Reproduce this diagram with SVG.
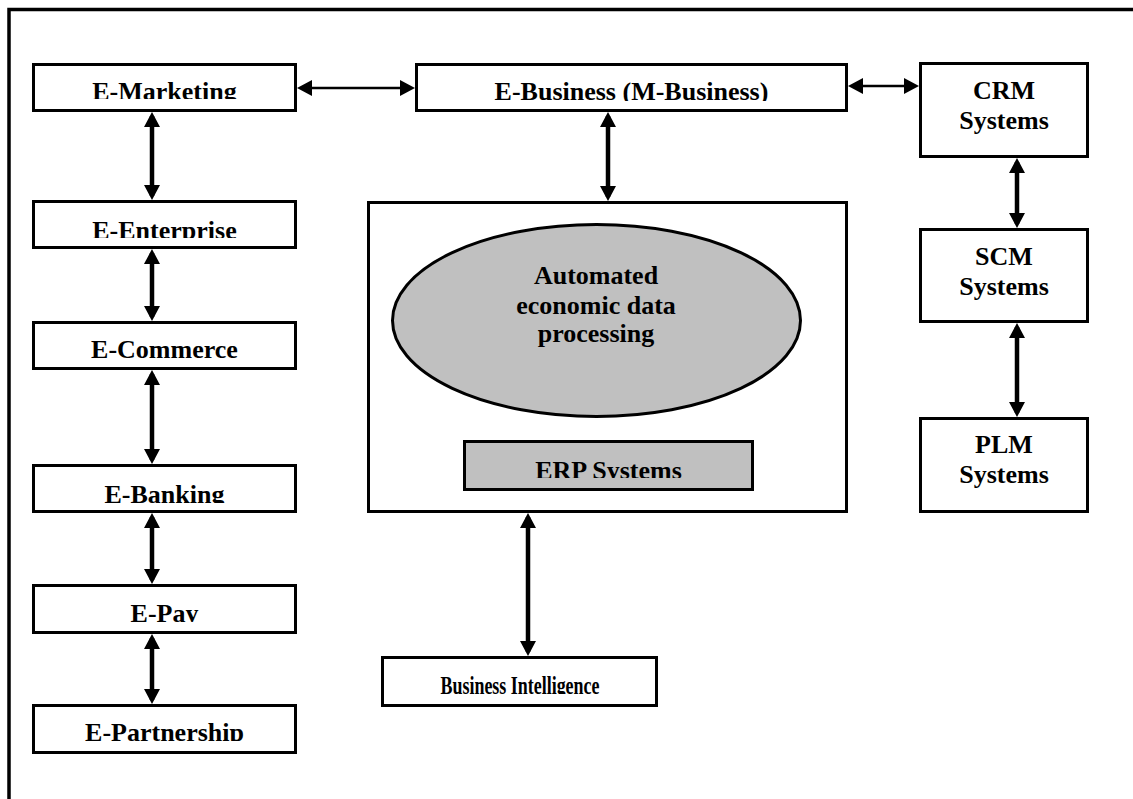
<svg xmlns="http://www.w3.org/2000/svg" width="1133" height="799" viewBox="0 0 1133 799">
<style>
  .box { fill: #ffffff; stroke: #000000; stroke-width: 3; }
  .grey { fill: #c0c0c0; stroke: #000000; stroke-width: 3; }
  .lbl { font-family: "Liberation Serif", "Times New Roman", serif; font-weight: bold; font-size: 26px; fill: #000000; text-anchor: middle; }
  .v { stroke: #000000; stroke-width: 4.5; fill: none; marker-start: url(#ah); marker-end: url(#ah); }
  .h { stroke: #000000; stroke-width: 2.5; fill: none; marker-start: url(#ah); marker-end: url(#ah); }
  .frame { stroke: #000000; stroke-width: 3.5; fill: none; }
</style>
<defs>
  <marker id="ah" markerUnits="userSpaceOnUse" markerWidth="15" markerHeight="16" viewBox="0 0 15 16" refX="11" refY="8" orient="auto-start-reverse">
    <path d="M0,0 L15,8 L0,16 z" fill="#000000"/>
  </marker>
  <clipPath id="c-mkt"><rect x="33" y="64" width="263" height="35"/></clipPath>
  <clipPath id="c-ent"><rect x="33" y="201" width="263" height="37"/></clipPath>
  <clipPath id="c-bank"><rect x="33" y="465" width="263" height="38"/></clipPath>
  <clipPath id="c-pay"><rect x="33" y="585" width="263" height="37"/></clipPath>
  <clipPath id="c-part"><rect x="33" y="705" width="263" height="36"/></clipPath>
  <clipPath id="c-bus"><rect x="416" y="64" width="431" height="37"/></clipPath>
  <clipPath id="c-erp"><rect x="464" y="441" width="289" height="37"/></clipPath>
  <clipPath id="c-bi"><rect x="382" y="657" width="275" height="37"/></clipPath>
</defs>
<rect width="1133" height="799" fill="#ffffff"/>
<path class="frame" d="M9,799 L9,9.5 L1133,9.5"/>

<g id="connectors">
  <line class="h" x1="301" y1="88" x2="411" y2="88"/>
  <line class="h" x1="852" y1="86" x2="915" y2="86"/>
  <line class="v" x1="152" y1="116" x2="152" y2="196"/>
  <line class="v" x1="152" y1="253" x2="152" y2="317"/>
  <line class="v" x1="152" y1="374" x2="152" y2="460"/>
  <line class="v" x1="152" y1="517" x2="152" y2="580"/>
  <line class="v" x1="152" y1="638" x2="152" y2="700"/>
  <line class="v" x1="608" y1="116" x2="608" y2="197"/>
  <line class="v" x1="528" y1="517" x2="528" y2="652"/>
  <line class="v" x1="1017" y1="162" x2="1017" y2="224"/>
  <line class="v" x1="1017" y1="327" x2="1017" y2="413"/>
</g>

<g id="e-marketing">
  <rect class="box" x="33.5" y="64.5" width="262" height="46"/>
  <text class="lbl" x="164.5" y="100" clip-path="url(#c-mkt)">E-Marketing</text>
</g>
<g id="e-enterprise">
  <rect class="box" x="33.5" y="201.5" width="262" height="46"/>
  <text class="lbl" x="164.5" y="239" clip-path="url(#c-ent)">E-Enterprise</text>
</g>
<g id="e-commerce">
  <rect class="box" x="33.5" y="322.5" width="262" height="46"/>
  <text class="lbl" x="164.5" y="358">E-Commerce</text>
</g>
<g id="e-banking">
  <rect class="box" x="33.5" y="465.5" width="262" height="46"/>
  <text class="lbl" x="164.5" y="503" clip-path="url(#c-bank)">E-Banking</text>
</g>
<g id="e-pay">
  <rect class="box" x="33.5" y="585.5" width="262" height="47"/>
  <text class="lbl" x="164.5" y="622" clip-path="url(#c-pay)">E-Pay</text>
</g>
<g id="e-partnership">
  <rect class="box" x="33.5" y="705.5" width="262" height="47"/>
  <text class="lbl" x="164.5" y="741" clip-path="url(#c-part)">E-Partnership</text>
</g>

<g id="e-business">
  <rect class="box" x="416.5" y="64.5" width="430" height="46"/>
  <text class="lbl" x="631.5" y="100" clip-path="url(#c-bus)">E-Business (M-Business)</text>
</g>

<g id="core">
  <rect class="box" x="368.5" y="202.5" width="478" height="309"/>
</g>
<g id="automated-processing">
  <ellipse class="grey" cx="596.5" cy="320.5" rx="204" ry="96"/>
  <text class="lbl" x="596" y="284">Automated</text>
  <text class="lbl" x="596" y="314">economic data</text>
  <text class="lbl" x="596" y="342">processing</text>
</g>
<g id="erp">
  <rect class="grey" x="464.5" y="441.5" width="288" height="48"/>
  <text class="lbl" x="608.5" y="479" clip-path="url(#c-erp)">ERP Systems</text>
</g>

<g id="business-intelligence">
  <rect class="box" x="382.5" y="657.5" width="274" height="48"/>
  <text class="lbl" x="520" y="694" textLength="159" lengthAdjust="spacingAndGlyphs" clip-path="url(#c-bi)">Business Intelligence</text>
</g>

<g id="crm">
  <rect class="box" x="920.5" y="63.5" width="167" height="93"/>
  <text class="lbl" x="1004" y="99">CRM</text>
  <text class="lbl" x="1004" y="129">Systems</text>
</g>
<g id="scm">
  <rect class="box" x="920.5" y="229.5" width="167" height="92"/>
  <text class="lbl" x="1004" y="265">SCM</text>
  <text class="lbl" x="1004" y="295">Systems</text>
</g>
<g id="plm">
  <rect class="box" x="920.5" y="418.5" width="167" height="93"/>
  <text class="lbl" x="1004" y="453">PLM</text>
  <text class="lbl" x="1004" y="483">Systems</text>
</g>
</svg>
